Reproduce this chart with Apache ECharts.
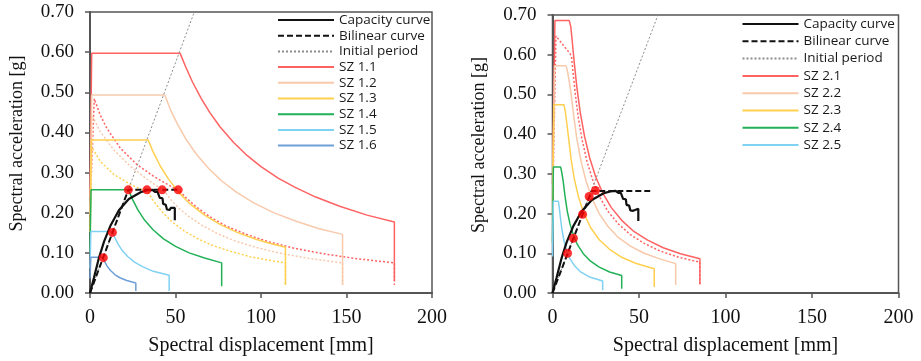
<!DOCTYPE html>
<html>
<head>
<meta charset="utf-8">
<script src="https://cdn.jsdelivr.net/npm/echarts@6/dist/echarts.min.js"></script>
<style>
  html, body { margin: 0; padding: 0; background: #fff; }
  .panel { position: absolute; top: 0; height: 361px; }
  #left { left: 0; width: 460px; }
  #right { left: 460px; width: 461px; }
</style>
</head>
<body>
<div id="left" class="panel"></div>
<div id="right" class="panel"></div>
<script>
// shared structure curves (Sd mm, Sa g)
const capacity = [[0,0],[2.3,0.038],[5.2,0.087],[8.2,0.128],[12.1,0.169],[16.9,0.206],[22.7,0.234],[29.6,0.251],[33.5,0.256],[36.5,0.257],[38,0.252],[38.5,0.249],[39.5,0.252],[40.4,0.249],[40.8,0.237],[42.4,0.236],[42.8,0.222],[44.3,0.22],[45,0.208],[46.6,0.207],[47.2,0.212],[49.6,0.212],[49.6,0.181]];
const initialPeriod = [[0,0],[61,0.7]];
const bilinearLeft = [[0,0],[22.4,0.257],[51.6,0.257]];
const bilinearRight = [[0,0],[22.6,0.257],[56.5,0.257]];

// left panel: SZ 1.x elastic spectra
const sz11 = [[0,0.24],[1,0.597],[52.7,0.597],[56,0.563],[60,0.525],[65,0.485],[70,0.45],[76,0.414],[84,0.375],[92,0.342],[100,0.315],[110,0.286],[120,0.263],[132,0.239],[146,0.216],[162,0.194],[178,0.177],[178,0.03]];
const sz12 = [[0,0.197],[1,0.493],[43.7,0.493],[47,0.457],[51,0.422],[56,0.384],[62,0.347],[69,0.312],[77,0.279],[86,0.25],[96,0.224],[108,0.199],[121,0.178],[134,0.16],[147.7,0.146],[147.7,0.02]];
const sz13 = [[0,0.152],[0.8,0.381],[34,0.381],[37,0.351],[41,0.317],[46,0.283],[52,0.25],[59,0.22],[67,0.194],[76,0.171],[86,0.151],[97,0.134],[105,0.124],[114.3,0.114],[114.3,0.02]];
const sz14 = [[0,0.103],[0.6,0.257],[22.5,0.257],[25,0.232],[28,0.207],[32,0.181],[37,0.157],[43,0.135],[50,0.116],[58,0.1],[67,0.087],[77,0.075],[77,0.017]];
const sz15 = [[0,0.061],[0.5,0.153],[13,0.153],[14.5,0.138],[16.5,0.121],[19,0.105],[22,0.091],[26,0.077],[31,0.065],[37,0.054],[46.3,0.044],[46.3,0.005]];
const sz16 = [[0,0.036],[0.5,0.089],[7.5,0.089],[8.5,0.079],[10,0.067],[12,0.056],[14.5,0.046],[17.5,0.038],[21.5,0.031],[26.8,0.025],[26.8,0.005]];
// left panel: reduced (inelastic) spectra, dotted
const sz11r = [[0.3,0.24],[2.5,0.484],[6,0.443],[9.9,0.41],[17.7,0.361],[27.4,0.32],[37.1,0.291],[46.8,0.267],[52.7,0.253],[56,0.238],[62,0.215],[70,0.19],[80,0.166],[92,0.145],[105,0.127],[120,0.111],[136,0.098],[155,0.086],[178,0.075],[178,0.02]];
const sz12r = [[0.3,0.2],[1.5,0.44],[6,0.402],[13.8,0.357],[23.5,0.316],[33.2,0.284],[43.7,0.253],[47,0.234],[52,0.211],[58,0.19],[65,0.17],[74,0.149],[84,0.131],[96,0.115],[110,0.1],[128,0.086],[147.7,0.075],[147.7,0.02]];
const sz13r = [[0.2,0.152],[0.8,0.365],[6,0.328],[13.8,0.296],[23.5,0.271],[34,0.25],[37,0.23],[42,0.203],[48,0.177],[55,0.155],[63,0.135],[72,0.118],[82,0.104],[94,0.09],[104,0.082],[114.3,0.075],[114.3,0.02]];
const dotsLeft = [[7.8,0.088],[13.1,0.151],[22.4,0.257],[33.3,0.257],[42.2,0.257],[51.6,0.257]];

// right panel: SZ 2.x elastic spectra
const sz21 = [[0,0.274],[1.4,0.686],[9.7,0.686],[10.6,0.67],[11.5,0.63],[12.5,0.584],[14,0.521],[16,0.456],[18.5,0.395],[21.5,0.34],[25,0.292],[29,0.252],[34,0.215],[40,0.183],[47,0.155],[55,0.133],[64,0.114],[74,0.099],[85.2,0.086],[85.2,0.022]];
const sz22 = [[0,0.229],[1.2,0.572],[7.8,0.572],[8.6,0.56],[9.4,0.54],[10.5,0.51],[12,0.455],[14,0.39],[16.5,0.332],[19.5,0.28],[23,0.236],[27,0.2],[32,0.168],[38,0.14],[45,0.118],[53,0.1],[62,0.086],[71.2,0.074],[71.2,0.02]];
const sz23 = [[0,0.19],[0.8,0.474],[6.6,0.474],[7.3,0.46],[8.2,0.43],[9.3,0.39],[10.8,0.335],[12.5,0.29],[15,0.242],[18,0.202],[22,0.165],[27,0.134],[33,0.11],[40,0.09],[48,0.075],[58.8,0.061],[58.8,0.015]];
const sz24 = [[0,0.127],[0.5,0.317],[4.7,0.317],[5.3,0.305],[6.2,0.281],[7.2,0.245],[8.5,0.207],[10.1,0.174],[12,0.147],[14.5,0.121],[17.8,0.099],[22,0.08],[27,0.065],[33,0.053],[40,0.044],[40,0.011]];
const sz25 = [[0,0.092],[0.5,0.231],[3.4,0.231],[3.9,0.215],[4.6,0.189],[5.5,0.158],[6.7,0.13],[8.2,0.106],[10,0.087],[12.5,0.07],[16,0.054],[21,0.041],[29,0.03],[29,0.007]];
const sz21r = [[0.3,0.27],[2,0.647],[10.1,0.603],[11,0.595],[12,0.55],[13.5,0.489],[15,0.44],[17,0.388],[20,0.33],[23.5,0.281],[27.5,0.24],[32,0.206],[38,0.174],[45,0.147],[53,0.125],[62,0.106],[73,0.09],[85.2,0.0775],[85.2,0.02]];
const dotsRight = [[8.7,0.1],[12.1,0.138],[17.4,0.198],[21.2,0.243],[24.8,0.258]];

const RED = '#FF6262', PEACH = '#F8C9AA', YELLOW = '#FFD04F', GREEN = '#22B157', LBLUE = '#80D2F3', BLUE = '#6E9FD6';

function line(name, data, color, width, type, z) {
    return {
        name: name,
        type: 'line',
        data: data,
        symbol: 'none',
        z: z || 2,
        lineStyle: { color: color, width: width, type: type || 'solid' },
        itemStyle: { color: color }
    };
}

function makeChart(el, opts) {
    const chart = echarts.init(el, null, { renderer: 'canvas' });
    const serif = 'Liberation Serif';
    const series = opts.spectra.concat([
        line('Initial period', initialPeriod, '#8C8C8C', 1, [2, 2], 3),
        line('Bilinear curve', opts.bilinear, '#111', 2, [6, 3], 4),
        line('Capacity curve', capacity, '#111', 2.2, 'solid', 5),
        {
            name: 'points',
            type: 'scatter',
            data: opts.dots,
            symbolSize: 9,
            z: 6,
            itemStyle: { color: '#FF0000' }
        }
    ]);
    chart.setOption({
        animation: false,
        grid: Object.assign({ show: true, borderColor: '#555', borderWidth: 1.5 }, opts.grid),
        legend: {
            orient: 'vertical',
            left: opts.legend.left,
            top: opts.legend.top,
            padding: 0,
            itemWidth: 56,
            itemHeight: 14,
            itemGap: opts.legend.gap,
            itemStyle: { opacity: 0 },
            data: ['Capacity curve', 'Bilinear curve', 'Initial period'].concat(opts.legendNames),
            textStyle: { fontFamily: 'Open Sans', fontSize: 13.5, color: '#1a1a1a', lineHeight: 14 }
        },
        xAxis: {
            type: 'value',
            min: 0, max: 200, interval: 50,
            name: 'Spectral displacement [mm]',
            nameLocation: 'middle',
            nameGap: 43,
            nameTextStyle: { fontFamily: serif, fontSize: 20, color: '#111' },
            axisLine: { lineStyle: { color: '#555', width: 2 } },
            axisTick: { inside: false, length: 5, lineStyle: { color: '#555', width: 1.5 } },
            axisLabel: { fontFamily: serif, fontSize: 20, color: '#111', margin: 15 },
            splitLine: { show: false }
        },
        yAxis: {
            type: 'value',
            min: 0, max: 0.7, interval: 0.1,
            name: 'Spectral acceleration [g]',
            nameLocation: 'middle',
            nameGap: opts.nameGap,
            nameTextStyle: { fontFamily: serif, fontSize: 18, color: '#111', padding: [0, 0, 0, 18] },
            axisLine: { lineStyle: { color: '#555', width: 2 } },
            axisTick: { inside: false, length: 5, lineStyle: { color: '#555', width: 1.5 } },
            axisLabel: { fontFamily: serif, fontSize: 19, color: '#111', margin: 16,
                formatter: v => v.toFixed(2) },
            splitLine: { show: false }
        },
        series: series
    });
    return chart;
}

makeChart(document.getElementById('left'), {
    grid: { left: 89, top: 12, width: 343, height: 285 },
    legend: { left: 277, top: 13, gap: 1.7 },
    nameGap: 64,
    bilinear: bilinearLeft,
    dots: dotsLeft,
    legendNames: ['SZ 1.1', 'SZ 1.2', 'SZ 1.3', 'SZ 1.4', 'SZ 1.5', 'SZ 1.6'],
    spectra: [
        line('SZ 1.1 red', sz11r, RED, 1.5, [2, 2]),
        line('SZ 1.2 red', sz12r, PEACH, 1.5, [2, 2]),
        line('SZ 1.3 red', sz13r, YELLOW, 1.5, [2, 2]),
        line('SZ 1.1', sz11, RED, 1.5),
        line('SZ 1.2', sz12, PEACH, 1.5),
        line('SZ 1.3', sz13, YELLOW, 1.5),
        line('SZ 1.4', sz14, GREEN, 1.5),
        line('SZ 1.5', sz15, LBLUE, 1.5),
        line('SZ 1.6', sz16, BLUE, 1.5)
    ]
});

makeChart(document.getElementById('right'), {
    grid: { left: 92.5, top: 15, width: 346, height: 281 },
    legend: { left: 281.5, top: 17, gap: 3.3 },
    nameGap: 64,
    bilinear: bilinearRight,
    dots: dotsRight,
    legendNames: ['SZ 2.1', 'SZ 2.2', 'SZ 2.3', 'SZ 2.4', 'SZ 2.5'],
    spectra: [
        line('SZ 2.1 red', sz21r, RED, 1.5, [2, 2]),
        line('SZ 2.1', sz21, RED, 1.5),
        line('SZ 2.2', sz22, PEACH, 1.5),
        line('SZ 2.3', sz23, YELLOW, 1.5),
        line('SZ 2.4', sz24, GREEN, 1.5),
        line('SZ 2.5', sz25, LBLUE, 1.5)
    ]
});
</script>
</body>
</html>
